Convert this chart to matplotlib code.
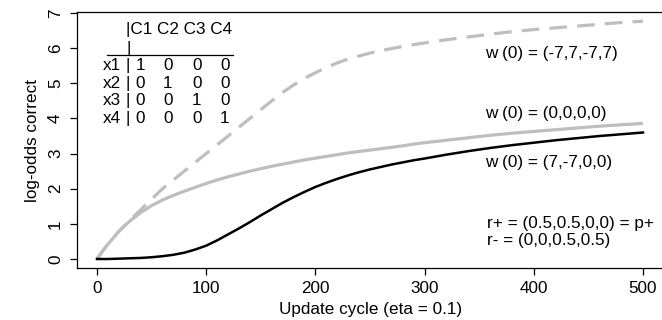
import matplotlib
matplotlib.use("Agg")
import matplotlib.pyplot as plt

plt.rcParams["font.family"] = ["Liberation Sans", "DejaVu Sans"]
plt.rcParams["font.size"] = 12.3

# update cycles
cycles = [0, 5, 10, 20, 30, 40, 50, 60, 70, 80, 90, 100, 110, 120, 130, 140, 150,
          160, 170, 180, 190, 200, 210, 220, 230, 240, 250, 260, 270, 280, 290,
          300, 320, 340, 360, 380, 400, 420, 440, 460, 480, 500]

# w(0) = (0,0,0,0)
w_zero = [0, 0.22, 0.42, 0.78, 1.08, 1.32, 1.52, 1.68, 1.81, 1.93, 2.04, 2.15, 2.25,
          2.34, 2.42, 2.50, 2.57, 2.64, 2.70, 2.76, 2.82, 2.87, 2.92, 2.97, 3.02,
          3.06, 3.10, 3.14, 3.18, 3.22, 3.27, 3.31, 3.38, 3.45, 3.52, 3.58, 3.63,
          3.68, 3.73, 3.78, 3.82, 3.86]

# w(0) = (-7,7,-7,7)
w_neg = [0, 0.22, 0.43, 0.79, 1.10, 1.40, 1.70, 2.00, 2.25, 2.50, 2.75, 3.00, 3.25,
         3.50, 3.75, 4.00, 4.25, 4.50, 4.74, 4.95, 5.14, 5.30, 5.45, 5.58, 5.69,
         5.78, 5.86, 5.93, 5.99, 6.05, 6.10, 6.15, 6.24, 6.32, 6.40, 6.47, 6.53,
         6.58, 6.63, 6.68, 6.73, 6.77]

# w(0) = (7,-7,0,0)
w_pos = [0, 0.0, 0.0, 0.01, 0.02, 0.03, 0.05, 0.08, 0.12, 0.18, 0.27, 0.38, 0.53,
         0.70, 0.87, 1.05, 1.24, 1.42, 1.60, 1.76, 1.91, 2.05, 2.17, 2.28, 2.38,
         2.47, 2.55, 2.62, 2.69, 2.75, 2.81, 2.86, 2.97, 3.07, 3.16, 3.24, 3.31,
         3.38, 3.44, 3.50, 3.55, 3.60]

row_labels = ["x1", "x2", "x3", "x4"]
col_labels = ["C1", "C2", "C3", "C4"]
matrix = [[1, 0, 0, 0], [0, 1, 0, 0], [0, 0, 1, 0], [0, 0, 0, 1]]

fig = plt.figure(figsize=(6.62, 3.2), dpi=100)
ax = fig.add_axes([77 / 662, 0.1625, 587.8 / 662, 0.8])

ax.plot(cycles, w_zero, color="#bebebe", lw=2.3, solid_capstyle="butt")
ax.plot(cycles, w_neg, color="#bebebe", lw=2.3, dashes=(5.5, 3.2))
ax.plot(cycles, w_pos, color="black", lw=1.8)

ax.set_xlim(-18.3, 520)
ax.set_ylim(-0.256, 7.03)
ax.set_xticks([0, 100, 200, 300, 400, 500])
ax.set_yticks(range(8))
ax.tick_params(length=5, width=0.9, pad=4.5)
ax.tick_params(axis="y", labelrotation=90, pad=5)
for lab in ax.get_yticklabels():
    lab.set_verticalalignment("center")
for sp in ax.spines.values():
    sp.set_linewidth(0.9)

ax.set_xlabel("Update cycle (eta = 0.1)", labelpad=4)
ax.set_ylabel("log-odds correct", labelpad=6)

# annotations
ax.text(355, 5.86, "w (0) = (-7,7,-7,7)", va="center")
ax.text(355, 4.15, "w (0) = (0,0,0,0)", va="center")
ax.text(355, 2.76, "w (0) = (7,-7,0,0)", va="center")
ax.text(357, 1.02, "r+ = (0.5,0.5,0,0) = p+", va="center")
ax.text(357, 0.54, "r- = (0,0,0.5,0.5)", va="center")

# weight-matrix table
ax.text(26.6, 6.52, "|" + " ".join(col_labels), va="center")
ax.text(26.6, 6.0, "|", va="center")
ax.plot([9.2, 124.5], [5.81, 5.81], color="black", lw=0.9)
col_x = [39.5, 65, 91.5, 117]
for i, lab in enumerate(row_labels):
    y = 5.5 - 0.5 * i
    ax.text(13.7, y, lab, ha="center", va="center")
    ax.text(28.2, y, "|", ha="center", va="center")
    for j, v in enumerate(matrix[i]):
        ax.text(col_x[j], y, str(v), ha="center", va="center")

fig.savefig("out.png", dpi=100)
